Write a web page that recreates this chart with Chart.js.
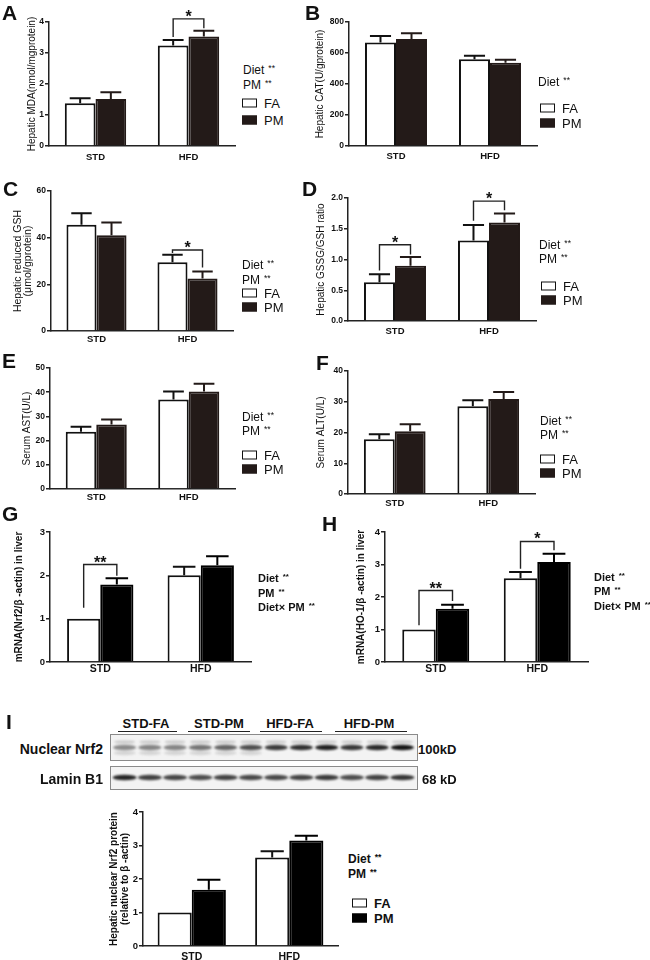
<!DOCTYPE html>
<html>
<head>
<meta charset="utf-8">
<script src="https://cdn.jsdelivr.net/npm/chart.js@4.4.0/dist/chart.umd.min.js"></script>
<style>
body { margin: 0; background: #fff; font-family: "Liberation Sans", Arial, sans-serif; color: #111; }
#fig { position: relative; width: 650px; height: 960px; overflow: hidden; background: #fff; }
canvas.p { position: absolute; }
.t { position: absolute; white-space: nowrap; line-height: 1; transform: translateY(-50%); }
.letter { font-weight: bold; font-size: 21px; transform: none; }
.t sup { font-size: 0.72em; vertical-align: 0.35em; margin-left: 4px; }
.box { position: absolute; width: 13px; height: 7px; border: 1.5px solid #111; background: #fff; transform: translateY(-50%); }
.uline { position: absolute; height: 0; border-top: 1.2px solid #222; }
</style>
</head>
<body>
<div id="fig"></div>
<script>
const FONT = '"Liberation Sans", Arial, sans-serif';

// data
const categories = ['STD', 'HFD'];

const mdaFA = [1.38, 3.24], mdaFAErr = [0.16, 0.18];
const mdaPM = [1.52, 3.53], mdaPMErr = [0.21, 0.19];
const mdaTicks = [0, 1, 2, 3, 4];
const mdaBrackets = [{ cat: 1, top: 4.1, left: 3.52, right: 3.8, text: '*' }];

const catFA = [667, 559], catFAErr = [43, 23];
const catPM = [690, 537], catPMErr = [37, 20];
const catTicks = [0, 200, 400, 600, 800];

const gshFA = [45.5, 29.5], gshFAErr = [5, 3.2];
const gshPM = [41, 22.5], gshPMErr = [5.5, 3];
const gshTicks = [0, 20, 40, 60];
const gshBrackets = [{ cat: 1, top: 34.7, left: 33.4, right: 27.2, text: '*' }];

const ratioFA = [0.63, 1.31], ratioFAErr = [0.13, 0.25];
const ratioPM = [0.9, 1.6], ratioPMErr = [0.14, 0.15];
const ratioTicks = [0, 0.5, 1, 1.5, 2];
const ratioBrackets = [
  { cat: 0, top: 1.24, left: 0.82, right: 1.08, text: '*' },
  { cat: 1, top: 1.95, left: 1.63, right: 1.8, text: '*' }
];

const astFA = [23.7, 37.0], astFAErr = [2, 3.3];
const astPM = [26.7, 40.3], astPMErr = [2, 3.2];
const astTicks = [0, 10, 20, 30, 40, 50];

const altFA = [17.8, 28.5], altFAErr = [1.6, 2];
const altPM = [20.4, 30.9], altPMErr = [2.3, 2.3];
const altTicks = [0, 10, 20, 30, 40];

const nrf2FA = [1, 2.0], nrf2FAErr = [0, 0.2];
const nrf2PM = [1.79, 2.23], nrf2PMErr = [0.14, 0.21];
const nrf2Ticks = [0, 1, 2, 3];
const nrf2Brackets = [{ cat: 0, top: 2.25, left: 1.25, right: 1.99, text: '**' }];

const ho1FA = [1, 2.58], ho1FAErr = [0, 0.19];
const ho1PM = [1.64, 3.08], ho1PMErr = [0.12, 0.25];
const ho1Ticks = [0, 1, 2, 3, 4];
const ho1Brackets = [
  { cat: 0, top: 2.2, left: 1.13, right: 1.88, text: '**' },
  { cat: 1, top: 3.71, left: 2.87, right: 3.44, text: '*' }
];

const protFA = [1, 2.64], protFAErr = [0, 0.19];
const protPM = [1.68, 3.15], protPMErr = [0.3, 0.14];
const protTicks = [0, 1, 2, 3, 4];

const blotLanes = ['STD-FA', 'STD-PM', 'HFD-FA', 'HFD-PM'];
const blotNrf2 = [0.45, 0.48, 0.48, 0.55, 0.62, 0.72, 0.8, 0.85, 0.92, 0.82, 0.88, 0.97];
const blotLamin = [0.9, 0.78, 0.75, 0.72, 0.76, 0.74, 0.74, 0.76, 0.8, 0.72, 0.76, 0.82];

const fig = document.getElementById('fig');

function addText(html, x, y, css) {
  const d = document.createElement('div');
  d.className = 't';
  d.innerHTML = html;
  d.style.left = x + 'px';
  d.style.top = y + 'px';
  Object.assign(d.style, css || {});
  fig.appendChild(d);
  return d;
}

function addLetter(s, x, y) {
  const d = addText(s, x, y);
  d.className = 't letter';
}

// stats lines + optional FA/PM key
function addKey(k) {
  k.stats.forEach((s, i) => {
    addText(s + '<sup>**</sup>', k.x, k.ys[i], { fontSize: k.size + 'px', fontWeight: k.bold ? 'bold' : 'normal' });
  });
  if (!k.boxes) return;
  ['FA', 'PM'].forEach((name, i) => {
    const b = document.createElement('div');
    b.className = 'box';
    b.style.left = k.boxX + 'px';
    b.style.top = k.boxes[i] + 'px';
    if (name === 'PM') { b.style.background = k.pm; b.style.borderColor = k.pm; }
    fig.appendChild(b);
    addText(name, k.boxX + 22, k.boxes[i], { fontSize: k.keySize + 'px', fontWeight: k.bold ? 'bold' : 'normal' });
  });
}

const errPlugin = {
  id: 'errbars',
  afterDatasetsDraw(chart) {
    const ctx = chart.ctx, y = chart.scales.y;
    chart.data.datasets.forEach((ds, i) => {
      chart.getDatasetMeta(i).data.forEach((bar, j) => {
        const e = ds.errors[j];
        if (!e) return;
        const yt = y.getPixelForValue(ds.data[j] + e);
        const cw = bar.width * 0.68;
        ctx.save();
        ctx.strokeStyle = ds.borderColor;
        ctx.lineWidth = 2;
        ctx.beginPath();
        ctx.moveTo(bar.x, bar.y);
        ctx.lineTo(bar.x, yt);
        ctx.moveTo(bar.x - cw / 2, yt);
        ctx.lineTo(bar.x + cw / 2, yt);
        ctx.stroke();
        ctx.restore();
      });
    });
  }
};

function bracketPlugin(list, starSize) {
  return {
    id: 'brackets',
    afterDraw(chart) {
      if (!list) return;
      const ctx = chart.ctx, y = chart.scales.y;
      const m0 = chart.getDatasetMeta(0), m1 = chart.getDatasetMeta(1);
      list.forEach(b => {
        const x1 = m0.data[b.cat].x, x2 = m1.data[b.cat].x;
        const yt = y.getPixelForValue(b.top);
        ctx.save();
        ctx.strokeStyle = '#222';
        ctx.lineWidth = 1.4;
        ctx.beginPath();
        ctx.moveTo(x1, y.getPixelForValue(b.left));
        ctx.lineTo(x1, yt);
        ctx.lineTo(x2, yt);
        ctx.lineTo(x2, y.getPixelForValue(b.right));
        ctx.stroke();
        ctx.fillStyle = '#111';
        ctx.font = 'bold ' + starSize + 'px ' + FONT;
        ctx.textAlign = 'center';
        ctx.textBaseline = 'alphabetic';
        ctx.fillText(b.text, (x1 + x2) / 2, yt + 3);
        ctx.restore();
      });
    }
  };
}

function makePanel(p) {
  const yw = 46, xh = 22, padTop = 30;
  const left = p.axisX - yw, top = p.topY - padTop;
  const width = p.rightX - left + 2, height = p.zeroY - top + xh;
  const cv = document.createElement('canvas');
  cv.className = 'p';
  cv.width = width; cv.height = height;
  cv.style.left = left + 'px'; cv.style.top = top + 'px';
  fig.appendChild(cv);
  const lh = p.titleSize * p.titleLH;
  const ticks = p.ticks;
  new Chart(cv, {
    type: 'bar',
    data: {
      labels: categories,
      datasets: [
        { label: 'FA', data: p.fa, errors: p.faErr, backgroundColor: '#fff', borderColor: '#111', borderWidth: 2 },
        { label: 'PM', data: p.pm, errors: p.pmErr, backgroundColor: p.pmColor, borderColor: p.pmColor, borderWidth: 2 }
      ]
    },
    options: {
      responsive: false,
      animation: false,
      events: [],
      layout: { padding: { top: padTop, right: 2, left: 0, bottom: 0 } },
      datasets: { bar: { barPercentage: 1, categoryPercentage: p.catPct } },
      plugins: { legend: { display: false }, tooltip: { enabled: false } },
      scales: {
        x: {
          grid: { display: false, drawTicks: false },
          border: { color: '#222', width: 1.5 },
          ticks: { padding: p.xPad, color: '#111', font: { size: p.xFont, weight: 'bold', family: FONT } },
          afterFit(s) { s.height = xh; }
        },
        y: {
          min: ticks[0], max: ticks[ticks.length - 1],
          ticks: {
            stepSize: ticks[1] - ticks[0], padding: 1, color: '#111',
            font: { size: p.tickFont, weight: 'bold', family: FONT },
            callback: p.fmt || (v => v)
          },
          grid: { drawOnChartArea: false, tickLength: 4, color: '#222', lineWidth: 1.5 },
          border: { color: '#222', width: 1.5 },
          title: {
            display: true, text: p.title, color: '#111',
            font: { size: p.titleSize, weight: p.titleBold ? 'bold' : 'normal', family: FONT, lineHeight: p.titleLH },
            padding: { top: p.titleX - left - lh / 2, bottom: 0 }
          },
          afterFit(s) { s.width = yw; }
        }
      }
    },
    plugins: [errPlugin, bracketPlugin(p.brackets, p.starSize || 16)]
  });
}

const dark = '#231a18';
const common = { pmColor: dark, catPct: 0.66, tickFont: 8.5, xFont: 9.5, titleSize: 10, titleLH: 1.2 };

makePanel(Object.assign({}, common, {
  fa: mdaFA, faErr: mdaFAErr, pm: mdaPM, pmErr: mdaPMErr, ticks: mdaTicks, brackets: mdaBrackets,
  axisX: 49, topY: 22, zeroY: 146, rightX: 235, xPad: 6,
  title: 'Hepatic MDA(nmol/mgprotein)', titleX: 32
}));
makePanel(Object.assign({}, common, {
  fa: catFA, faErr: catFAErr, pm: catPM, pmErr: catPMErr, ticks: catTicks,
  axisX: 349, topY: 22, zeroY: 146, rightX: 537, xPad: 5,
  title: 'Hepatic CAT(U/gprotein)', titleX: 320
}));
makePanel(Object.assign({}, common, {
  fa: gshFA, faErr: gshFAErr, pm: gshPM, pmErr: gshPMErr, ticks: gshTicks, brackets: gshBrackets,
  axisX: 50.5, topY: 191, zeroY: 331, rightX: 233, xPad: 3,
  title: ['Hepatic reduced GSH', '(μmol/gprotein)'], titleX: 18, titleSize: 10.5, titleLH: 0.9
}));
makePanel(Object.assign({}, common, {
  fa: ratioFA, faErr: ratioFAErr, pm: ratioPM, pmErr: ratioPMErr, ticks: ratioTicks, brackets: ratioBrackets,
  axisX: 348, topY: 198, zeroY: 321, rightX: 536, xPad: 5, fmt: v => v.toFixed(1),
  title: 'Hepatic GSSG/GSH ratio', titleX: 321
}));
makePanel(Object.assign({}, common, {
  fa: astFA, faErr: astFAErr, pm: astPM, pmErr: astPMErr, ticks: astTicks,
  axisX: 49.5, topY: 368, zeroY: 489, rightX: 235, xPad: 3,
  title: 'Serum AST(U/L)', titleX: 27
}));
makePanel(Object.assign({}, common, {
  fa: altFA, faErr: altFAErr, pm: altPM, pmErr: altPMErr, ticks: altTicks,
  axisX: 348, topY: 371, zeroY: 494, rightX: 535, xPad: 4,
  title: 'Serum ALT(U/L)', titleX: 321
}));
makePanel(Object.assign({}, common, {
  fa: nrf2FA, faErr: nrf2FAErr, pm: nrf2PM, pmErr: nrf2PMErr, ticks: nrf2Ticks, brackets: nrf2Brackets,
  pmColor: '#000', axisX: 49.5, topY: 532, zeroY: 662, rightX: 251, xPad: 1, tickFont: 9.5, xFont: 10.5,
  title: 'mRNA(Nrf2/β -actin) in liver', titleX: 19, titleBold: true, titleSize: 10
}));
makePanel(Object.assign({}, common, {
  fa: ho1FA, faErr: ho1FAErr, pm: ho1PM, pmErr: ho1PMErr, ticks: ho1Ticks, brackets: ho1Brackets,
  pmColor: '#000', axisX: 385, topY: 532, zeroY: 662, rightX: 588, xPad: 1, tickFont: 9.5, xFont: 10.5,
  title: 'mRNA(HO-1/β -actin) in liver', titleX: 361, titleBold: true, titleSize: 10
}));
makePanel(Object.assign({}, common, {
  fa: protFA, faErr: protFAErr, pm: protPM, pmErr: protPMErr, ticks: protTicks,
  pmColor: '#000', axisX: 143, topY: 812, zeroY: 946, rightX: 338, xPad: 5, tickFont: 9.5, xFont: 10.5, catPct: 0.7,
  title: ['Hepatic nuclear Nrf2 protein', '(relative to β -actin)'], titleX: 114, titleBold: true, titleSize: 10, titleLH: 1.15
}));

// panel letters
addLetter('A', 2, 2);
addLetter('B', 305, 2);
addLetter('C', 3, 178);
addLetter('D', 302, 178);
addLetter('E', 2, 350);
addLetter('F', 316, 352);
addLetter('G', 2, 503);
addLetter('H', 322, 513);
addLetter('I', 6, 711);

// stats and keys
addKey({ stats: ['Diet', 'PM'], x: 243, ys: [70, 85], size: 12, boxes: [103, 120], boxX: 242, keySize: 13, pm: dark });
addKey({ stats: ['Diet'], x: 538, ys: [82], size: 12, boxes: [108, 123], boxX: 540, keySize: 13, pm: dark });
addKey({ stats: ['Diet', 'PM'], x: 242, ys: [265, 280], size: 12, boxes: [293, 307], boxX: 242, keySize: 13, pm: dark });
addKey({ stats: ['Diet', 'PM'], x: 539, ys: [245, 259], size: 12, boxes: [286, 300], boxX: 541, keySize: 13, pm: dark });
addKey({ stats: ['Diet', 'PM'], x: 242, ys: [417, 431], size: 12, boxes: [455, 469], boxX: 242, keySize: 13, pm: dark });
addKey({ stats: ['Diet', 'PM'], x: 540, ys: [421, 435], size: 12, boxes: [459, 473], boxX: 540, keySize: 13, pm: dark });
addKey({ stats: ['Diet', 'PM', 'Diet× PM'], x: 258, ys: [578, 593, 607], size: 11, bold: true });
addKey({ stats: ['Diet', 'PM', 'Diet× PM'], x: 594, ys: [577, 591, 606], size: 11, bold: true });
addKey({ stats: ['Diet', 'PM'], x: 348, ys: [859, 874], size: 12, bold: true, boxes: [903, 918], boxX: 352, keySize: 13, pm: '#000' });

// western blot (panel I)
const laneHead = [[146, 118, 177], [219, 188, 250], [290, 260, 322], [369, 335, 407]];
blotLanes.forEach((s, i) => {
  const h = laneHead[i];
  const d = addText(s, h[0], 723, { fontSize: '13px', fontWeight: 'bold' });
  d.style.transform = 'translate(-50%,-50%)';
  const u = document.createElement('div');
  u.className = 'uline';
  u.style.left = h[1] + 'px';
  u.style.width = (h[2] - h[1]) + 'px';
  u.style.top = '731px';
  fig.appendChild(u);
});
addText('Nuclear Nrf2', 103, 749, { fontSize: '14px', fontWeight: 'bold', transform: 'translate(-100%,-50%)' });
addText('Lamin B1', 103, 779, { fontSize: '14px', fontWeight: 'bold', transform: 'translate(-100%,-50%)' });
addText('100kD', 418, 749, { fontSize: '13px', fontWeight: 'bold' });
addText('68 kD', 422, 779, { fontSize: '13px', fontWeight: 'bold' });

const bc = document.createElement('canvas');
bc.width = 320; bc.height = 64;
bc.style.position = 'absolute';
bc.style.left = '104px'; bc.style.top = '730px';
fig.appendChild(bc);
(function drawBlot() {
  const ctx = bc.getContext('2d');
  const ox = 104, oy = 730;
  function strip(y0, y1) {
    ctx.fillStyle = '#f3f3f3';
    ctx.fillRect(110 - ox, y0 - oy, 307, y1 - y0);
    ctx.strokeStyle = '#8a8a8a';
    ctx.lineWidth = 1;
    ctx.strokeRect(110.5 - ox, y0 - oy + 0.5, 307, y1 - y0);
  }
  strip(734, 760);
  strip(766, 789);
  const lw = 303 / 12;
  ctx.filter = 'blur(1.1px)';
  for (let i = 0; i < 12; i++) {
    const cx = 112 + lw * (i + 0.5) - ox;
    // faint upper band
    ctx.fillStyle = 'rgba(40,40,40,0.2)';
    ctx.beginPath(); ctx.ellipse(cx, 742 - oy, lw * 0.42, 1.6, 0, 0, Math.PI * 2); ctx.fill();
    if (i < 6) {
      ctx.fillStyle = 'rgba(60,60,60,0.16)';
      ctx.beginPath(); ctx.ellipse(cx, 753 - oy, lw * 0.44, 2.2, 0, 0, Math.PI * 2); ctx.fill();
    }
    ctx.fillStyle = 'rgba(15,15,15,' + blotNrf2[i] + ')';
    ctx.beginPath(); ctx.ellipse(cx, 747.5 - oy, lw * 0.46, 2.8, 0, 0, Math.PI * 2); ctx.fill();
    ctx.fillStyle = 'rgba(15,15,15,' + blotLamin[i] + ')';
    ctx.beginPath(); ctx.ellipse(cx, 777.5 - oy, lw * 0.48, 2.8, 0, 0, Math.PI * 2); ctx.fill();
  }
  ctx.filter = 'none';
})();
</script>
</body>
</html>
